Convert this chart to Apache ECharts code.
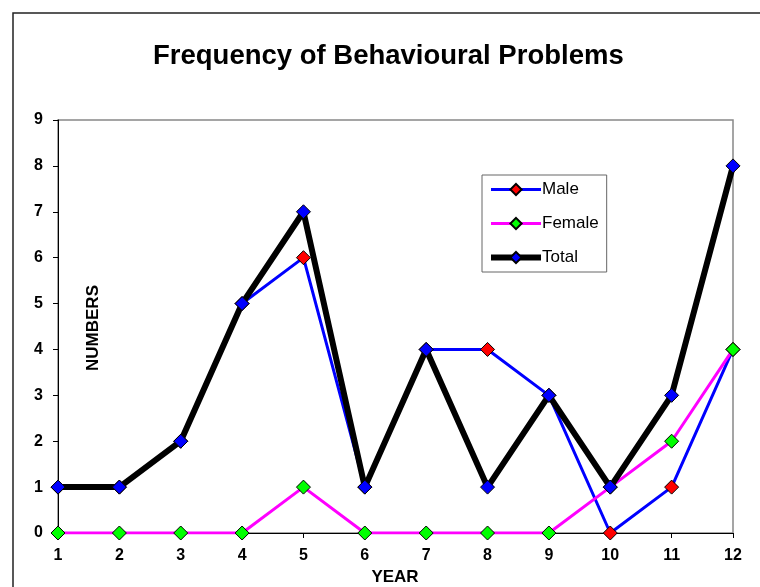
<!DOCTYPE html>
<html>
<head>
    <meta charset="utf-8">
    <title>Frequency of Behavioural Problems</title>
    <script src="https://cdn.jsdelivr.net/npm/echarts@6/dist/echarts.min.js"></script>
</head>
<style>
    *{
        margin: 0;
        padding: 0;
    }
    #chart{
        width: 760px;
        height: 587px;
    }
</style>
<body>
<div id="chart"></div>
<script>
    // data
    let years = ['1','2','3','4','5','6','7','8','9','10','11','12'];
    let male = [1,1,2,5,6,1,4,4,3,0,1,4];
    let female = [0,0,0,0,1,0,0,0,0,1,2,4];
    let total = [1,1,2,5,7,1,4,1,3,1,3,8];

    let font = 'Liberation Sans, Arial, sans-serif';
    let chart = echarts.init(document.getElementById('chart'));

    function line(name, data, color, marker, width){
        return {
            name: name,
            type: 'line',
            data: data,
            symbol: 'diamond',
            symbolSize: 14,
            showAllSymbol: true,
            itemStyle: {
                color: marker,
                borderColor: '#000',
                borderWidth: 1
            },
            lineStyle: {
                color: color,
                width: width
            },
            emphasis: {disabled: true},
            animation: false
        };
    }

    let option = {
        backgroundColor: '#fff',
        textStyle: {fontFamily: font},
        title: {
            text: 'Frequency of Behavioural Problems',
            left: 148,
            top: 37,
            textStyle: {
                fontFamily: font,
                fontSize: 27.5,
                fontWeight: 'bold',
                color: '#000'
            }
        },
        graphic: [
            {
                type: 'rect',
                shape: {x: 13, y: 13, width: 800, height: 800},
                style: {fill: 'none', stroke: '#222', lineWidth: 1.5},
                silent: true
            },
            {
                type: 'text',
                x: 93,
                y: 328,
                rotation: Math.PI / 2,
                style: {
                    text: 'NUMBERS',
                    font: 'bold 17px ' + font,
                    fill: '#000',
                    align: 'center',
                    verticalAlign: 'middle'
                }
            },
            {
                type: 'text',
                x: 395,
                y: 577,
                style: {
                    text: 'YEAR',
                    font: 'bold 17px ' + font,
                    fill: '#000',
                    align: 'center',
                    verticalAlign: 'middle'
                }
            }
        ],
        legend: {
            orient: 'vertical',
            left: 482,
            top: 175,
            width: 123,
            padding: [6, 8, 6, 6],
            itemGap: 17,
            itemWidth: 50,
            itemHeight: 14,
            borderColor: '#666',
            borderWidth: 1,
            selectedMode: false,
            data: [
                {name: 'Male', lineStyle: {width: 3}},
                {name: 'Female', lineStyle: {width: 3}},
                {name: 'Total', lineStyle: {width: 6}}
            ],
            textStyle: {
                fontFamily: font,
                fontSize: 17,
                color: '#000',
                padding: [0, 0, 0, -4]
            }
        },
        grid: {
            left: 58,
            right: 27,
            top: 120,
            bottom: 54,
            show: true,
            borderColor: '#888',
            borderWidth: 1.5
        },
        xAxis: {
            type: 'category',
            data: years,
            boundaryGap: false,
            axisLine: {lineStyle: {color: '#000', width: 1}},
            axisTick: {show: true, alignWithLabel: true, length: 5, lineStyle: {color: '#000'}},
            axisLabel: {
                fontFamily: font,
                fontSize: 16,
                fontWeight: 'bold',
                color: '#000',
                margin: 15
            },
            splitLine: {show: false}
        },
        yAxis: {
            type: 'value',
            min: 0,
            max: 9,
            interval: 1,
            axisLine: {show: true, lineStyle: {color: '#000', width: 1}},
            axisTick: {show: true, length: 5, lineStyle: {color: '#000'}},
            axisLabel: {
                fontFamily: font,
                fontSize: 16,
                fontWeight: 'bold',
                color: '#000',
                margin: 15
            },
            splitLine: {show: false}
        },
        series: [
            line('Male', male, '#0000ff', '#ff0000', 3),
            line('Female', female, '#ff00ff', '#00ff00', 3),
            line('Total', total, '#000000', '#0000ff', 6)
        ]
    };
    chart.setOption(option);
</script>
</body>
</html>
